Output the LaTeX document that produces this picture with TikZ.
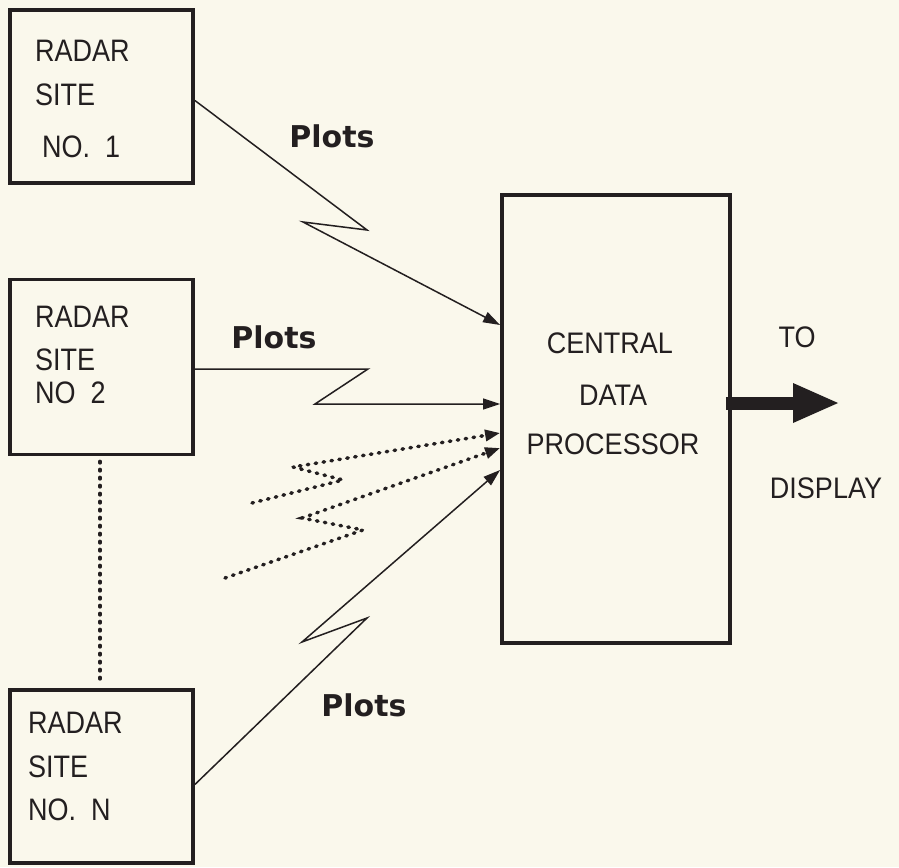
\documentclass[tikz,border=0pt]{standalone}
\usepackage{fontspec}
\setmainfont{Liberation Sans}
\newfontfamily\plotsfont{DejaVu Sans}
\usetikzlibrary{arrows.meta}
\definecolor{paper}{RGB}{250,248,236}
\definecolor{ink}{RGB}{35,31,32}
\begin{document}
\begin{tikzpicture}[x=1pt,y=-1pt,
  sitebox/.style={draw=ink,line width=3.8pt,minimum width=183pt,minimum height=175pt,inner sep=0pt},
  cdpbox/.style={draw=ink,line width=3.8pt,minimum width=228pt,minimum height=448pt,inner sep=0pt},
  boxtxt/.style={anchor=base west,inner sep=0pt,text=ink,font=\fontsize{27}{30}\selectfont,yscale=1.15},
  ctrtxt/.style={inner sep=0pt,text=ink,font=\fontsize{27}{30}\selectfont,yscale=1.1},
  plotslbl/.style={inner sep=0pt,text=ink,font=\plotsfont\bfseries\fontsize{30}{34}\selectfont},
  link/.style={draw=ink,line width=1.5pt,line join=miter,-{Triangle[length=17pt,width=11pt]}},
  dotlink/.style={draw=ink,line width=3.5pt,line cap=round,dash pattern=on 1.5pt off 6.5pt,-{Triangle[length=15pt,width=11pt]}},
  dotline/.style={draw=ink,line width=3.5pt,line cap=round,dash pattern=on 1.5pt off 6.5pt}
]
\fill[paper] (0,0) rectangle (899,867);
\useasboundingbox (0,0) rectangle (899,867);

% boxes
\node[sitebox,minimum height=173pt] (s1) at (101.5,96.5) {};
\node[sitebox] (s2) at (101.5,367) {};
\node[sitebox,minimum height=173pt] (sn) at (101.5,776.5) {};
\node[cdpbox] (cdp) at (616,419) {};

% box texts
\node[boxtxt] (s1a) at (35,62) {RADAR};
\node[boxtxt] (s1b) at (35,105) {SITE};
\node[boxtxt] (s1c) at (42,157) {NO.\ \ 1};
\node[boxtxt] (s2a) at (35,327) {RADAR};
\node[boxtxt] (s2b) at (35,370) {SITE};
\node[boxtxt] (s2c) at (35,403) {NO\ \ 2};
\node[boxtxt] (sna) at (28,733) {RADAR};
\node[boxtxt] (snb) at (28,777) {SITE};
\node[boxtxt] (snc) at (28,820) {NO.\ \ N};

\node[ctrtxt] (c1) at (610,343) {CENTRAL};
\node[ctrtxt] (c2) at (613,395) {DATA};
\node[ctrtxt] (c3) at (613,444) {PROCESSOR};
\node[ctrtxt] (to) at (797,337) {TO};
\node[ctrtxt] (disp) at (826,488) {DISPLAY};

\node[plotslbl] (p1) at (332,136) {Plots};
\node[plotslbl] (p2) at (274,337) {Plots};
\node[plotslbl] (pn) at (364,705) {Plots};

% zigzag coordinates
\coordinate (a1) at (367,230);
\coordinate (b1) at (303,222);
\coordinate (a2) at (368,369);
\coordinate (b2) at (315,404);
\coordinate (d1s) at (252,503);
\coordinate (d1a) at (343,480);
\coordinate (d1b) at (293,467);
\coordinate (d2s) at (225,578);
\coordinate (d2a) at (363,530);
\coordinate (d2b) at (302,518);
\coordinate (an) at (367,618);
\coordinate (bn) at (302,642);
\coordinate (out) at (840,403);

% connectors
\draw[link] ([yshift=-4pt]s1.east) -- (a1) -- (b1) -- ([yshift=94pt]cdp.west);
\draw[link] ([yshift=-2pt]s2.east) -- (a2) -- (b2) -- ([yshift=15pt]cdp.west);
\draw[dotlink] (d1s) -- (d1a) -- (d1b) -- ([yshift=-14pt]cdp.west);
\draw[dotlink] (d2s) -- (d2a) -- (d2b) -- ([yshift=-29pt]cdp.west);
\draw[link] ([yshift=-8pt]sn.east) -- (an) -- (bn) -- ([yshift=-51pt]cdp.west);
\draw[dotline] ([xshift=-1.5pt,yshift=-5pt]s2.south) -- ([xshift=-1.5pt,yshift=5pt]sn.north);
\draw[draw=ink,line width=13pt,-{Triangle[length=47pt,width=36pt]}] ([xshift=-6pt,yshift=16pt]cdp.east) -- (out);
\end{tikzpicture}
\end{document}
